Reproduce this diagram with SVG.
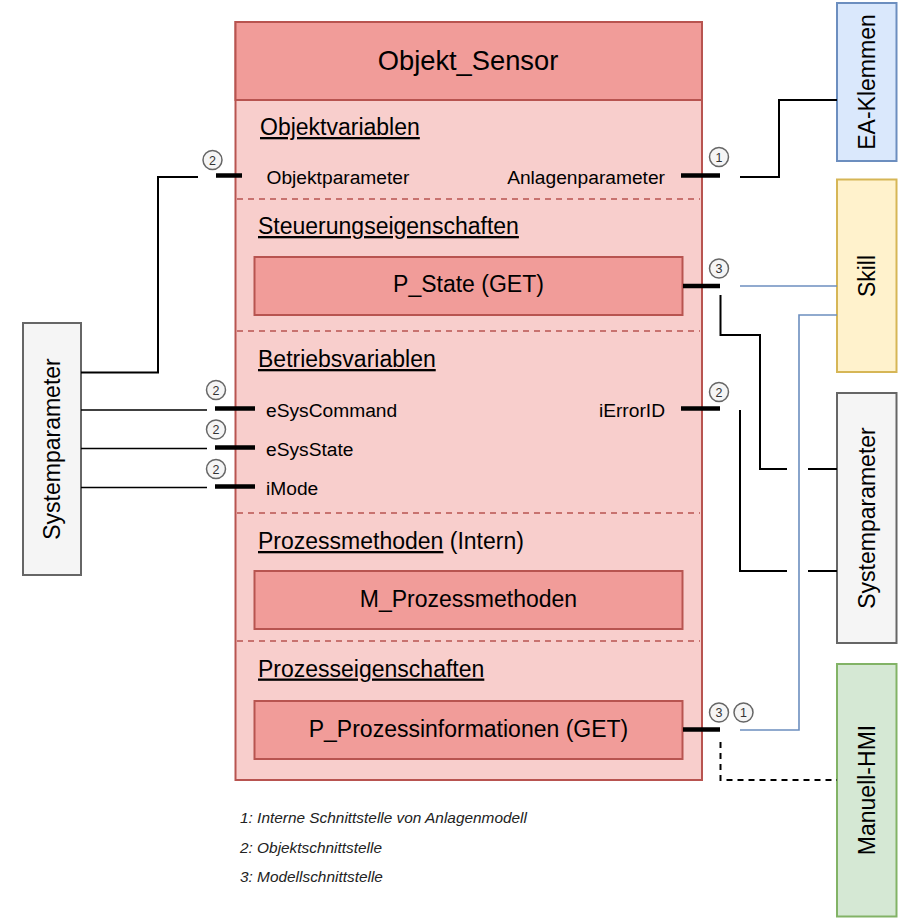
<svg xmlns="http://www.w3.org/2000/svg" width="903" height="920" viewBox="0 0 903 920">
<style>
text{font-family:"Liberation Sans",Arial,sans-serif;fill:#000}
.main{fill:#f8cecc;stroke:#b85450;stroke-width:2}
.inner{fill:#f19c99;stroke:#b85450;stroke-width:2}
.sep{stroke:#b85450;stroke-width:1.5;stroke-dasharray:6 5;fill:none}
.sec{font-size:23px}
.ul{text-decoration:underline}
.lbl{font-size:19.2px}
.box{font-size:23px}
.bar{stroke:#000;stroke-width:4.5;fill:none}
.badge circle{fill:#f5f5f5;stroke:#666;stroke-width:1.5}
.badge text{font-size:12.5px;text-anchor:middle;fill:#333}
.blk{stroke:#000;stroke-width:2;fill:none}
.thin{stroke:#000;stroke-width:1.4;fill:none}
.blue{stroke:#6c8ebf;stroke-width:1.6;fill:none}
.dash{stroke:#000;stroke-width:2;stroke-dasharray:6 5;fill:none}
.legend{font-size:15.4px;font-style:italic;fill:#222}
.vt{font-size:23px;text-anchor:middle}
</style>

<g id="objekt_sensor">
  <rect class="main" x="235.5" y="22" width="466.5" height="758"/>
  <rect class="inner" x="235.5" y="22" width="466.5" height="78"/>
  <text x="468" y="70" font-size="27.3" text-anchor="middle">Objekt_Sensor</text>
  <line class="sep" x1="237" y1="199" x2="700" y2="199"/>
  <line class="sep" x1="237" y1="331" x2="700" y2="331"/>
  <line class="sep" x1="237" y1="513" x2="700" y2="513"/>
  <line class="sep" x1="237" y1="641" x2="700" y2="641"/>
  <text class="sec ul" x="260" y="135">Objektvariablen</text>
  <text class="lbl" x="266.5" y="183.5">Objektparameter</text>
  <text class="lbl" x="665" y="183.5" text-anchor="end">Anlagenparameter</text>
  <text class="sec ul" x="258" y="234">Steuerungseigenschaften</text>
  <text class="sec ul" x="258" y="367">Betriebsvariablen</text>
  <text class="lbl" x="266" y="416.5">eSysCommand</text>
  <text class="lbl" x="266" y="455.5">eSysState</text>
  <text class="lbl" x="266" y="494.5">iMode</text>
  <text class="lbl" x="665" y="416.5" text-anchor="end">iErrorID</text>
  <text class="sec" x="258" y="549"><tspan class="ul">Prozessmethoden</tspan> (Intern)</text>
  <text class="sec ul" x="258" y="676.5">Prozesseigenschaften</text>
</g>

<g id="p_state">
  <rect class="inner" x="254.5" y="257" width="428" height="58"/>
  <text class="box" x="468.5" y="292" text-anchor="middle">P_State (GET)</text>
</g>
<g id="m_prozessmethoden">
  <rect class="inner" x="254.5" y="571" width="428" height="58"/>
  <text class="box" x="468.5" y="606.5" text-anchor="middle">M_Prozessmethoden</text>
</g>
<g id="p_prozessinformationen">
  <rect class="inner" x="254.5" y="701" width="428" height="58"/>
  <text class="box" x="468.5" y="736.5" text-anchor="middle">P_Prozessinformationen (GET)</text>
</g>

<g id="systemparameter_left">
  <rect x="23" y="323" width="58" height="252" fill="#f5f5f5" stroke="#666" stroke-width="2"/>
  <text class="vt" transform="translate(52,449) rotate(-90)" dy="8">Systemparameter</text>
</g>
<g id="ea_klemmen">
  <rect x="837" y="3" width="59.5" height="158" fill="#dae8fc" stroke="#6c8ebf" stroke-width="2"/>
  <text class="vt" transform="translate(867,82) rotate(-90)" dy="8">EA-Klemmen</text>
</g>
<g id="skill">
  <rect x="837" y="179.5" width="59.5" height="192.5" fill="#fff2cc" stroke="#d6b656" stroke-width="2"/>
  <text class="vt" transform="translate(867,276) rotate(-90)" dy="8">Skill</text>
</g>
<g id="systemparameter_right">
  <rect x="837" y="393" width="59.5" height="250" fill="#f5f5f5" stroke="#666" stroke-width="2"/>
  <text class="vt" transform="translate(867,518) rotate(-90)" dy="8">Systemparameter</text>
</g>
<g id="manuell_hmi">
  <rect x="837" y="664" width="59.5" height="252.5" fill="#d5e8d4" stroke="#82b366" stroke-width="2"/>
  <text class="vt" transform="translate(867,790) rotate(-90)" dy="8">Manuell-HMI</text>
</g>

<g id="connectors">
  <line class="bar" x1="216" y1="175.5" x2="242" y2="175.5"/>
  <line class="bar" x1="681" y1="175.5" x2="720" y2="175.5"/>
  <line class="bar" x1="683" y1="286" x2="720" y2="286"/>
  <line class="bar" x1="215" y1="408.5" x2="255" y2="408.5"/>
  <line class="bar" x1="215" y1="447.5" x2="255" y2="447.5"/>
  <line class="bar" x1="215" y1="486.5" x2="255" y2="486.5"/>
  <line class="bar" x1="681" y1="408.5" x2="720" y2="408.5"/>
  <line class="bar" x1="683" y1="729.5" x2="720" y2="729.5"/>
  <path class="blk" d="M81 372.5 H158 V177 H198"/>
  <path class="thin" d="M81 410 H207"/>
  <path class="thin" d="M81 448.5 H207"/>
  <path class="thin" d="M81 487.5 H207"/>
  <path class="blk" d="M740 177 H779 V100 H837"/>
  <path class="blue" d="M740 286 H837"/>
  <path class="blue" d="M740 730 H799 V315 H837"/>
  <path class="blk" d="M720.5 295 V335 H760 V469 H787"/>
  <path class="blk" d="M808 469 H837"/>
  <path class="blk" d="M740 410 V571 H787"/>
  <path class="blk" d="M808 571 H837"/>
  <path class="dash" d="M720.5 742 V780 H837"/>
  <g class="badge"><circle cx="212.5" cy="160" r="9.5"/><text x="212.5" y="164.5">2</text></g>
  <g class="badge"><circle cx="719" cy="157" r="9.5"/><text x="719" y="161.5">1</text></g>
  <g class="badge"><circle cx="719" cy="268.5" r="9.5"/><text x="719" y="273">3</text></g>
  <g class="badge"><circle cx="216" cy="390" r="9.5"/><text x="216" y="394.5">2</text></g>
  <g class="badge"><circle cx="216" cy="429.5" r="9.5"/><text x="216" y="434">2</text></g>
  <g class="badge"><circle cx="216" cy="469" r="9.5"/><text x="216" y="473.5">2</text></g>
  <g class="badge"><circle cx="719" cy="392" r="9.5"/><text x="719" y="396.5">2</text></g>
  <g class="badge"><circle cx="719" cy="712.5" r="9.5"/><text x="719" y="717">3</text></g>
  <g class="badge"><circle cx="743.5" cy="712.5" r="9.5"/><text x="743.5" y="717">1</text></g>
</g>

<g id="legend">
  <text class="legend" x="240" y="823">1: Interne Schnittstelle von Anlagenmodell</text>
  <text class="legend" x="240" y="852.5">2: Objektschnittstelle</text>
  <text class="legend" x="240" y="882">3: Modellschnittstelle</text>
</g>
</svg>
